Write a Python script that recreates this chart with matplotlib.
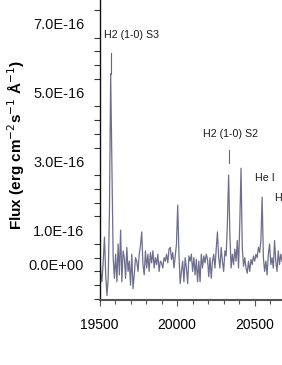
import matplotlib
matplotlib.use("Agg")
import matplotlib.pyplot as plt
from matplotlib.ticker import FixedLocator

plt.rcParams['font.family'] = ['Liberation Sans', 'DejaVu Sans']

# wavelength (Angstrom) and flux (1e-16 erg cm-2 s-1 A-1)
wave = [19500, 19508, 19516, 19524, 19532, 19540, 19548, 19556, 19564, 19572,
        19580, 19588, 19596, 19604, 19612, 19620, 19628, 19636, 19644, 19652,
        19660, 19668, 19676, 19684, 19692, 19700, 19708, 19716, 19724, 19732,
        19740, 19748, 19756, 19764, 19772, 19780, 19788, 19796, 19804, 19812,
        19820, 19828, 19836, 19844, 19852, 19860, 19868, 19876, 19884, 19892,
        19900, 19908, 19916, 19924, 19932, 19940, 19948, 19956, 19964, 19972,
        19980, 19988, 19996, 20004, 20012, 20020, 20028, 20036, 20044, 20052,
        20060, 20068, 20076, 20084, 20092, 20100, 20108, 20116, 20124, 20132,
        20140, 20148, 20156, 20164, 20172, 20180, 20188, 20196, 20204, 20212,
        20220, 20228, 20236, 20244, 20252, 20260, 20268, 20276, 20284, 20292,
        20300, 20308, 20316, 20324, 20332, 20340, 20348, 20356, 20364, 20372,
        20380, 20388, 20396, 20404, 20412, 20420, 20428, 20436, 20444, 20452,
        20460, 20468, 20476, 20484, 20492, 20500, 20508, 20516, 20524, 20532,
        20540, 20548, 20556, 20564, 20572, 20580, 20588, 20596, 20604, 20612,
        20620, 20628, 20636, 20644, 20652, 20660, 20668, 20676]
flux = [0.5, -0.2, -0.5, 0.1, 0.8, -0.3, -0.9, -0.4, 1.5, 5.55,
        2.9, 0.2, -0.4, 0.3, -0.5, 0.6, -0.3, 1.0, -0.5, 0.4,
        0.2, -0.4, 0.5, -0.2, 0.1, -0.6, 0.3, -0.7, -0.3, 0.2,
        0.1, -0.2, 0.3, 0.55, 0.95, 0.0, -0.3, 0.4, -0.1, 0.3,
        -0.2, 0.35, 0.05, 0.4, -0.1, 0.2, 0.0, 0.3, -0.2, 0.1,
        0.05, -0.1, 0.2, 0.1, 0.3, 0.05, 0.45, 0.5, 0.15, 0.35,
        -0.1, 0.25, 0.6, 1.73, 0.3, -0.55, -0.2, 0.1, -0.5, 0.2,
        -0.1, -0.55, 0.25, 0.1, 0.3, -0.2, 0.2, -0.3, 0.15, -0.5,
        0.1, -0.5, 0.3, -0.1, 0.25, 0.05, 0.3, 0.15, -0.35, 0.2,
        -0.4, 0.1, 0.3, -0.1, 0.45, 0.95, 0.2, -0.1, 0.5, 0.1,
        -0.2, 0.4, 0.25, 1.2, 2.6, 0.9, -0.1, 0.3, 0.0, 0.45,
        0.1, 0.7, -0.1, 1.2, 2.8, 0.5, -0.05, 0.2, -0.1, -0.25,
        0.1, -0.2, 0.15, 0.0, 0.25, 0.1, 0.3, 0.2, 0.5, 0.35,
        0.7, 1.96, 0.2, -0.2, 0.1, -0.3, 0.3, 0.6, 0.0, 0.2,
        -0.1, 0.7, 0.1, -0.2, 0.4, 0.0, 0.3, 0.1]

# line identifications: label, label position, marker line
line_labels = ["H2 (1-0) S3", "H2 (1-0) S2", "He I", "H I"]
label_wave = [19526, 20165, 20500, 20629]
label_flux = [6.67, 3.79, 2.51, 1.93]
marker_wave = [19572, 20332]
marker_lo = [5.55, 2.95]
marker_hi = [6.15, 3.33]

ytick_vals = [0.0, 1.0, 3.0, 5.0, 7.0]
ytick_text = ["0.0E+00", "1.0E-16", "3.0E-16", "5.0E-16", "7.0E-16"]
xtick_vals = [19500, 20000, 20500]

fig = plt.figure(figsize=(2.82, 3.65), dpi=100)
ax = fig.add_axes([99.5 / 282, 1 - 300 / 365, 1 - 99.5 / 282, 300 / 365])

ax.plot(wave, flux, color='#6e6e8e', lw=0.9)
for w, lo, hi in zip(marker_wave, marker_lo, marker_hi):
    ax.plot([w, w], [lo, hi], color='#666677', lw=0.8)
for t, w, f in zip(line_labels, label_wave, label_flux):
    ax.text(w, f, t, fontsize=7.7, color='#1a1a1a', ha='left', va='center', clip_on=False)

ax.set_xlim(19500, 20676)
ax.set_ylim(-1.03, 7.69)

ax.set_yticks(ytick_vals)
ax.set_yticklabels(ytick_text)
ax.yaxis.set_minor_locator(FixedLocator([-1.0 + 0.4 * i for i in range(22)]))
ax.tick_params(axis='y', which='major', length=0, pad=11, labelsize=10.5, colors='#111111')
ax.tick_params(axis='y', which='minor', length=4, width=0.8, color='#333333')

ax.set_xticks(xtick_vals)
ax.set_xticklabels([str(v) for v in xtick_vals])
ax.xaxis.set_minor_locator(FixedLocator([19500 + 100 * i for i in range(12)]))
ax.tick_params(axis='x', which='major', length=4, width=0.8, pad=9, labelsize=10, color='#555555')
ax.tick_params(axis='x', which='minor', length=3, width=0.8, color='#555555')

ax.spines['top'].set_visible(False)
ax.spines['right'].set_visible(False)
ax.spines['left'].set_color('#111111')
ax.spines['left'].set_linewidth(1.0)
ax.spines['bottom'].set_color('#555555')
ax.spines['bottom'].set_linewidth(1.5)

fig.text(16 / 282, 1 - 145 / 365, r"Flux (erg cm$^{-2}$s$^{-1}$ Å$^{-1}$)",
         rotation=90, ha='center', va='center', fontsize=11, fontweight='bold')

fig.savefig("out.png", dpi=100)
